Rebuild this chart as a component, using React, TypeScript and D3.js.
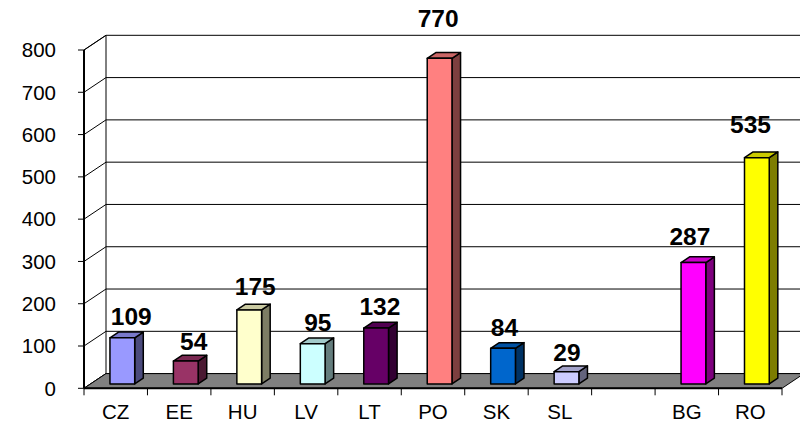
import React from "react";
import * as d3 from "d3";

const categories = ["CZ", "EE", "HU", "LV", "LT", "PO", "SK", "SL", "", "BG", "RO"];
const values = [109, 54, 175, 95, 132, 770, 84, 29, null, 287, 535];
const frontColors = ["#9999FF", "#993366", "#FFFFCC", "#CCFFFF", "#660066", "#FF8080", "#0066CC", "#CCCCFF", null, "#FF00FF", "#FFFF00"];
const yTicks = [0, 100, 200, 300, 400, 500, 600, 700, 800];

const width = 800;
const height = 425;
// 3d depth of the plot box
const DX = 22;
const DY = -14.7;
const F0 = 0.3;
const F1 = 0.69;

export default function App() {
  const x = d3
    .scaleBand<number>()
    .domain(categories.map((_, i) => i))
    .range([84, 782]);
  const y = d3.scaleLinear().domain([0, 800]).range([388.3, 50]);
  const bw = x.bandwidth();
  const barW = bw * 0.39;
  const ddx = DX * (F1 - F0);
  const ddy = DY * (F1 - F0);
  const left = x.range()[0];
  const right = x.range()[1];
  const y0 = y(0);
  const yTop = y(800);
  const font = "'Liberation Sans', Arial, sans-serif";

  const pts = (a: number[][]) => a.map(p => p.join(",")).join(" ");

  return (
    <svg
      width={width}
      height={height}
      style={{ position: "absolute", left: 0, top: 0, background: "#fff" }}
    >
      {/* side wall */}
      <polygon
        points={pts([[left, yTop], [left + DX, yTop + DY], [left + DX, y0 + DY], [left, y0]])}
        fill="#fff"
        stroke="#000"
        strokeWidth={1}
      />
      {/* gridlines on side and back walls */}
      {yTicks.map(t => (
        <g key={t}>
          <line x1={left} y1={y(t)} x2={left + DX} y2={y(t) + DY} stroke="#000" strokeWidth={1} />
          <line x1={left + DX} y1={y(t) + DY} x2={right + DX} y2={y(t) + DY} stroke="#000" strokeWidth={1} />
        </g>
      ))}
      {/* floor */}
      <polygon
        points={pts([[left, y0], [left + DX, y0 + DY], [right + DX, y0 + DY], [right, y0]])}
        fill="#808080"
        stroke="#000"
        strokeWidth={1}
      />
      <line x1={left} y1={y0} x2={right} y2={y0} stroke="#000" strokeWidth={2} />
      {/* value axis */}
      <line x1={left} y1={yTop} x2={left} y2={y0} stroke="#000" strokeWidth={2} />
      {yTicks.map(t => (
        <g key={"t" + t}>
          <line x1={left - 6} y1={y(t)} x2={left} y2={y(t)} stroke="#000" strokeWidth={1} />
          <text
            x={56}
            y={y(t) + 7.3}
            textAnchor="end"
            fontFamily={font}
            fontSize={20.5}
            fill="#000"
          >
            {t}
          </text>
        </g>
      ))}
      {/* category ticks */}
      {categories.map((_, i) => (
        <line key={"c" + i} x1={x(i)!} y1={y0} x2={x(i)!} y2={y0 + 7} stroke="#000" strokeWidth={1} />
      ))}
      <line x1={right} y1={y0} x2={right} y2={y0 + 7} stroke="#000" strokeWidth={1} />
      {categories.map((c, i) => (
        <text
          key={"l" + i}
          x={x(i)! + bw / 2}
          y={418.5}
          textAnchor="middle"
          fontFamily={font}
          fontSize={20.5}
          fill="#000"
        >
          {c}
        </text>
      ))}
      {/* bars */}
      {values.map((v, i) => {
        if (v == null) return null;
        const col = d3.color(frontColors[i]!)!;
        const sideCol = d3.rgb(col).darker(2).toString();
        const topCol = d3.rgb(col).darker(0.65).toString();
        const x0 = x(i)! + (bw - barW) / 2 + DX * F0;
        const x1 = x0 + barW;
        const yt = y(v) + DY * F0;
        const yb = y0 + DY * F0;
        const fc = x0 + barW / 2;
        const labelX = fc + 10 - 0.02 * (fc - 100) - 0.006 * v;
        const labelY = yt + ddy - (4 + 0.028 * v);
        return (
          <g key={"b" + i} stroke="#000" strokeWidth={1.5} strokeLinejoin="round">
            <polygon
              points={pts([[x1, yt], [x1 + ddx, yt + ddy], [x1 + ddx, yb + ddy], [x1, yb]])}
              fill={sideCol}
            />
            <polygon
              points={pts([[x0, yt], [x0 + ddx, yt + ddy], [x1 + ddx, yt + ddy], [x1, yt]])}
              fill={topCol}
            />
            <rect x={x0} y={yt} width={barW} height={yb - yt} fill={col.toString()} />
            <text
              x={labelX}
              y={labelY}
              textAnchor="middle"
              fontFamily={font}
              fontWeight="bold"
              fontSize={24.5}
              fill="#000"
              stroke="none"
            >
              {v}
            </text>
          </g>
        );
      })}
    </svg>
  );
}
